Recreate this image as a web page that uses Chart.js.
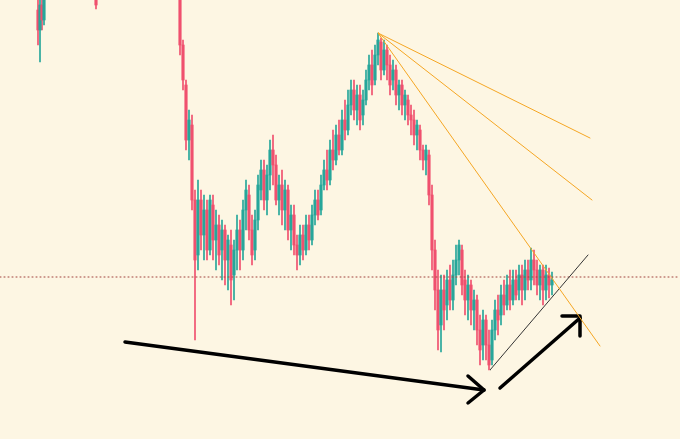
<!DOCTYPE html>
<html><head><meta charset="utf-8">
<script src="https://cdn.jsdelivr.net/npm/chart.js@4/dist/chart.umd.min.js"></script>
<style>html,body{margin:0;padding:0;background:#fdf6e3}#w{width:680px;height:439px}</style>
</head><body><div id="w"><canvas id="c"></canvas></div>
<script>
const candleX=[38,40,42,44,96,180,183,186,189,192,195,198,201,204,207,210,213,216,219,222,225,228,231,234,237,240,243,246,249,252,255,258,261,264,267,270,273,276,279,282,285,288,291,294,297,300,303,306,309,312,315,318,321,324,327,330,333,336,339,342,345,348,351,354,357,360,363,366,369,372,375,378,381,384,387,390,393,396,399,402,405,408,411,414,417,420,423,426,429,432,435,438,441,444,447,450,453,456,459,462,465,468,471,474,477,480,483,486,489,492,495,498,501,504,507,510,513,516,519,522,525,528,531,534,537,540,543,546,549,552];
const opens=[10,30,5,20,0,0,45,85,140,125,200,255,200,235,210,250,205,240,225,250,230,260,245,275,250,230,250,210,195,230,250,220,190,170,200,175,150,165,200,185,210,190,230,215,245,255,235,250,225,240,215,200,210,185,170,180,150,160,135,150,120,130,105,90,110,95,115,100,80,65,80,55,42,70,50,65,80,70,95,85,105,100,115,120,135,130,150,160,155,195,250,290,325,290,305,280,300,275,260,250,280,300,285,310,300,330,345,320,345,360,330,310,315,295,305,285,300,280,290,275,290,270,280,260,270,285,270,290,275,285];
const closes=[30,5,20,0,5,45,80,140,120,200,260,200,235,210,250,200,240,225,255,230,260,240,280,250,230,250,210,190,230,255,220,185,170,200,175,150,165,200,185,210,190,230,215,245,255,235,250,225,240,215,200,215,185,170,180,150,160,135,150,120,130,105,90,110,95,120,100,80,65,85,55,40,70,50,65,85,70,95,85,105,95,115,120,135,125,150,160,150,195,250,290,330,290,310,280,300,275,260,245,285,300,285,310,300,330,350,320,345,365,330,310,320,295,305,285,300,280,295,275,290,270,280,260,270,285,270,290,275,285,280];
const highs=[0,0,0,0,0,0,40,80,110,115,190,180,190,195,200,195,195,210,215,220,225,235,230,240,215,220,200,180,185,215,210,175,160,160,165,140,135,155,175,170,180,185,205,205,235,225,225,215,215,205,190,190,175,160,150,140,130,125,120,110,100,90,80,80,85,85,90,70,55,50,45,33,38,40,45,55,60,65,80,80,90,95,105,110,120,125,145,145,150,185,240,270,275,275,270,265,260,245,240,245,270,275,280,290,295,315,310,315,330,320,300,295,285,280,275,270,270,270,265,265,260,260,248,250,260,265,265,265,268,272];
const lows=[45,62,30,25,9,55,90,150,160,210,340,270,250,260,260,255,260,270,265,280,285,290,305,300,270,270,260,230,240,265,260,230,200,210,215,190,185,205,215,225,230,240,250,255,270,265,260,255,250,245,225,220,215,190,190,185,170,165,155,155,140,135,115,120,125,130,125,105,90,95,85,65,80,75,80,95,90,105,110,115,120,125,135,145,150,160,170,175,205,270,310,350,352,330,320,310,310,285,275,295,315,320,325,330,345,365,360,360,370,365,340,335,325,315,310,310,305,300,300,305,300,290,290,285,295,300,305,300,298,295];
const fanLines=[[[378,33],[590,138]],[[378,33],[592,200]],[[378,33],[600,346]]];
const supportLine=[[490,370],[588,255]];
const refLevel=277;
const arrow1=[[125,342],[484,390]], arrow1Head=[[468,376],[484,390],[468,403]];
const arrow2=[[500,388],[580,318]], arrow2Head=[[562,316],[580,316],[580,336]];

const RED='#f0506e', GREEN='#26a69a';
const col=i=>closes[i]>opens[i]?RED:GREEN;
const pts=a=>a.map(p=>({x:p[0],y:p[1]}));
const lineDs=(a,c,w,dash)=>({type:'line',data:pts(a),borderColor:c,borderWidth:w,pointRadius:0,borderDash:dash||[],fill:false,tension:0,order:0,borderCapStyle:'round',borderJoinStyle:'round'});
const ds=[];
ds.push({type:'bar',data:candleX.map((x,i)=>({x,y:[highs[i],lows[i]]})),backgroundColor:candleX.map((x,i)=>col(i)),barThickness:1,grouped:false,order:2});
ds.push({type:'bar',data:candleX.map((x,i)=>({x,y:[opens[i],closes[i]===opens[i]?opens[i]+1:closes[i]]})),backgroundColor:candleX.map((x,i)=>col(i)),barThickness:2.5,grouped:false,order:1});
fanLines.forEach(l=>ds.push(lineDs(l,'#f5a623',1)));
ds.push(lineDs(supportLine,'#333',1));
ds.push(lineDs([[0,refLevel],[680,refLevel]],'#a0403c',1,[1,3]));
ds.push(lineDs(arrow1,'#000',3.5));ds.push(lineDs(arrow1Head,'#000',3.5));
ds.push(lineDs(arrow2,'#000',3.5));ds.push(lineDs(arrow2Head,'#000',3.5));
new Chart(document.getElementById('c'),{data:{datasets:ds},options:{animation:false,responsive:true,maintainAspectRatio:false,
layout:{padding:0},plugins:{legend:{display:false},tooltip:{enabled:false}},
scales:{x:{type:'linear',min:0,max:680,display:false,offset:false},y:{type:'linear',min:0,max:439,reverse:true,display:false}}}});
</script></body></html>
